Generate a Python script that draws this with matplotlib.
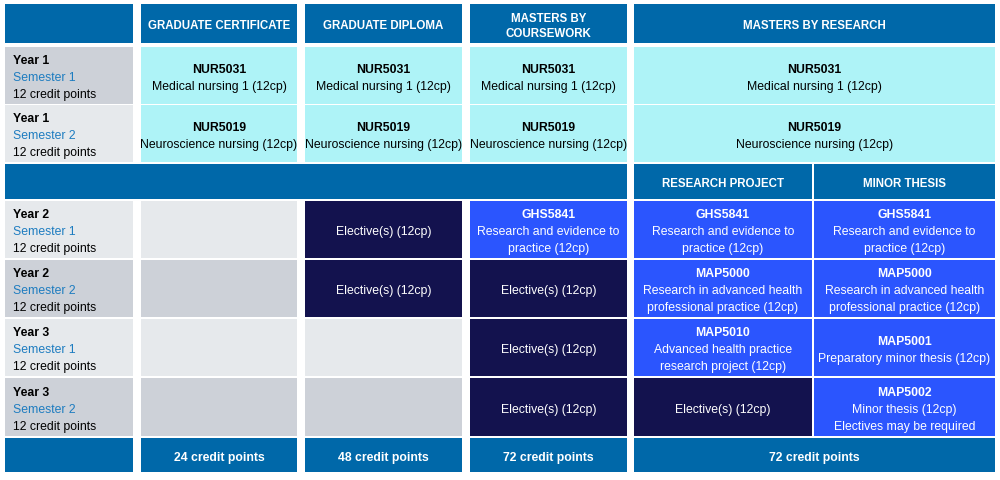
import matplotlib
matplotlib.use("Agg")
import matplotlib.pyplot as plt
from matplotlib.patches import Rectangle

plt.rcParams['font.family'] = ['Liberation Sans Narrow', 'Liberation Sans', 'DejaVu Sans']

# ---- content ----
programs = ["GRADUATE CERTIFICATE", "GRADUATE DIPLOMA", "MASTERS BY\nCOURSEWORK", "MASTERS BY RESEARCH"]
streams = ["RESEARCH PROJECT", "MINOR THESIS"]
row_years = ["Year 1", "Year 1", "Year 2", "Year 2", "Year 3", "Year 3"]
row_semesters = ["Semester 1", "Semester 2", "Semester 1", "Semester 2", "Semester 1", "Semester 2"]
row_points = ["12 credit points"] * 6
core_codes = ["NUR5031", "NUR5019"]
core_names = ["Medical nursing 1 (12cp)", "Neuroscience nursing (12cp)"]
totals = ["24 credit points", "48 credit points", "72 credit points", "72 credit points"]

ELECTIVE = ("", ["Elective(s) (12cp)"])
GHS = ("GHS5841", ["Research and evidence to", "practice (12cp)"])
MAP5000 = ("MAP5000", ["Research in advanced health", "professional practice (12cp)"])
MAP5010 = ("MAP5010", ["Advanced health practice", "research project (12cp)"])
MAP5001 = ("MAP5001", ["Preparatory minor thesis (12cp)"])
MAP5002 = ("MAP5002", ["Minor thesis (12cp)", "Electives may be required"])

# years 2-3, one list per column (None = not taken)
grad_cert = [None, None, None, None]
grad_dip = [ELECTIVE, ELECTIVE, None, None]
coursework = [GHS, ELECTIVE, ELECTIVE, ELECTIVE]
research_project = [GHS, MAP5000, MAP5010, ELECTIVE]
minor_thesis = [GHS, MAP5000, MAP5001, MAP5002]

# ---- style ----
HEAD = '#0068a9'
CYAN = '#aef3f7'
BRIGHT = '#2b55fe'
NAVY = '#13124e'
GRAY_D = '#cdd1d8'
GRAY_L = '#e6e9ec'
SEM = '#1d7cc0'
FS = 8.8
FS_HEAD = 8.3
LH = 17
DY = 1.8  # nudge text down to sit like the reference

fig = plt.figure(figsize=(10, 4.81), dpi=100)
ax = fig.add_axes([0, 0, 1, 1])
ax.set_xlim(0, 1000)
ax.set_ylim(481, 0)
ax.axis('off')

cols = [(5, 133), (141, 297), (305, 462), (470, 627), (634, 995)]
sub_cols = [(634, 812), (814, 995)]
head_y = (5, 44)
top_rows = [(48, 105), (106, 163)]
band_y = (165, 200)
low_rows = [(202, 259), (261, 318), (320, 377), (379, 437)]
foot_y = (439, 473)


def box(xr, yr, color):
    ax.add_patch(Rectangle((xr[0], yr[0]), xr[1] - xr[0], yr[1] - yr[0],
                           facecolor=color, edgecolor='none'))


def block(xr, yr, code, lines, color, weight='normal', lh=LH, fs=FS):
    items = ([(code, 'bold')] if code else []) + [(l, weight) for l in lines]
    cx = (xr[0] + xr[1]) / 2
    cy = (yr[0] + yr[1]) / 2 + DY
    y0 = cy - (len(items) - 1) * lh / 2
    for i, (t, w) in enumerate(items):
        ax.text(cx, y0 + i * lh, t, ha='center', va='center', fontsize=fs,
                fontweight=w, color=color)


def unit_cell(xr, yr, unit, shade):
    if unit is None:
        box(xr, yr, shade)
    elif unit is ELECTIVE:
        box(xr, yr, NAVY)
        block(xr, yr, *unit, 'white')
    else:
        box(xr, yr, BRIGHT)
        block(xr, yr, *unit, 'white')


# header row
box(cols[0], head_y, HEAD)
for c, name in zip(cols[1:], programs):
    box(c, head_y, HEAD)
    block(c, head_y, "", name.split("\n"), 'white', 'bold', lh=15, fs=FS_HEAD)

shades = [GRAY_D, GRAY_L, GRAY_L, GRAY_D, GRAY_L, GRAY_D]
all_rows = top_rows + low_rows


def row_label(i):
    yr = all_rows[i]
    box(cols[0], yr, shades[i])
    cy = (yr[0] + yr[1]) / 2 + DY
    ax.text(13, cy - LH, row_years[i], ha='left', va='center', fontsize=FS, fontweight='bold', color='black')
    ax.text(13, cy, row_semesters[i], ha='left', va='center', fontsize=FS, color=SEM)
    ax.text(13, cy + LH, row_points[i], ha='left', va='center', fontsize=FS, color='black')


# year 1
for i in range(2):
    row_label(i)
    for c in cols[1:]:
        box(c, top_rows[i], CYAN)
        block(c, top_rows[i], core_codes[i], [core_names[i]], 'black')

# band with research streams
box((cols[0][0], cols[3][1]), band_y, HEAD)
for c, name in zip(sub_cols, streams):
    box(c, band_y, HEAD)
    block(c, band_y, "", [name], 'white', 'bold', fs=FS_HEAD)

# years 2-3
lower = [grad_cert, grad_dip, coursework]
for j, yr in enumerate(low_rows):
    row_label(j + 2)
    for c, units in zip(cols[1:4], lower):
        unit_cell(c, yr, units[j], shades[j + 2])
    for c, units in zip(sub_cols, [research_project, minor_thesis]):
        unit_cell(c, yr, units[j], shades[j + 2])

# footer
box(cols[0], foot_y, HEAD)
for c, t in zip(cols[1:], totals):
    box(c, foot_y, HEAD)
    block(c, foot_y, "", [t], 'white', 'bold')

fig.savefig("out.png", dpi=100, facecolor='white')
